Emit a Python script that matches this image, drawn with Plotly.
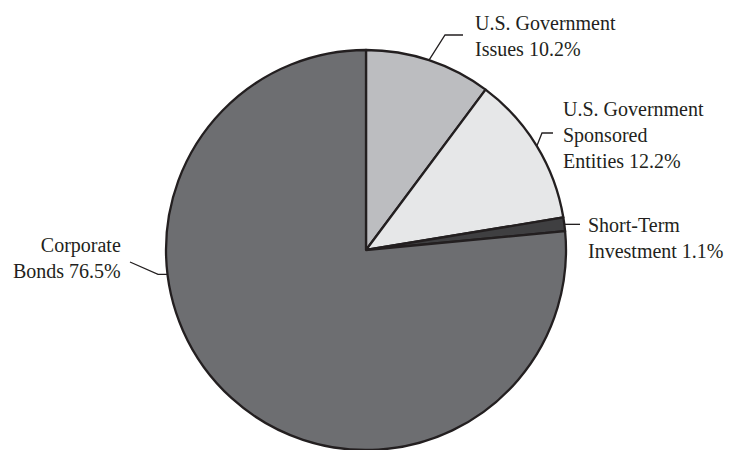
import math
import plotly.graph_objects as go

# ---- data ----
categories = ["U.S. Government Issues", "U.S. Government Sponsored Entities",
              "Short-Term Investment", "Corporate Bonds"]
values = [10.2, 12.2, 1.1, 76.5]
label_texts = ["U.S. Government<br>Issues 10.2%",
               "U.S. Government<br>Sponsored<br>Entities 12.2%",
               "Short-Term<br>Investment 1.1%",
               "Corporate<br>Bonds 76.5%"]
colors = ["#bcbdc0", "#e6e7e8", "#3f3f41", "#6d6e71"]

# ---- layout geometry (pixels) ----
W, H = 734, 450
CX, CY, R = 366, 250, 200
INK = "#231f20"


def P(x, y):
    return x / W, 1 - y / H


def edge(angle_deg):
    a = math.radians(angle_deg)
    return CX + R * math.sin(a), CY - R * math.cos(a)


# mid angles of slices (clockwise from 12 o'clock)
total = sum(values)
mids = []
acc = 0
for v in values:
    mids.append((acc + v / 2) / total * 360)
    acc += v

fig = go.Figure(go.Pie(
    labels=categories, values=values, sort=False, direction="clockwise",
    rotation=0, textinfo="none", hoverinfo="skip", showlegend=False,
    marker=dict(colors=colors, line=dict(color=INK, width=2.3)),
    domain=dict(x=[(CX - R) / W, (CX + R) / W],
                y=[(H - (CY + R)) / H, (H - (CY - R)) / H]),
))

# leader lines: start at slice edge, then elbow points
s0 = edge(mids[0])
s1 = edge(mids[1])
s2 = edge(mids[2])
s3 = edge(263)
leaders = [
    [s0, (445, 35), (463, 35)],
    [s1, (542, 133), (553, 133)],
    [s2, (580, s2[1])],
    [s3, (158, s3[1]), (130, 262)],
]
shapes = []
for pts in leaders:
    path = "M " + " L ".join("%.4f,%.4f" % P(x, y) for x, y in pts)
    shapes.append(dict(type="path", path=path, xref="paper", yref="paper",
                       line=dict(color=INK, width=1.3)))

# label positions
label_pos = [(473, 35.5, "left"), (561, 135, "left"), (586, 237.5, "left"),
             (123, 258, "right")]
annotations = []
for txt, (x, y, side) in zip(label_texts, label_pos):
    px, py = P(x, y)
    annotations.append(dict(
        text=txt, x=px, y=py, xref="paper", yref="paper", showarrow=False,
        xanchor=side, yanchor="middle", align=side,
        font=dict(family="Liberation Serif", size=20, color=INK)))

fig.update_layout(
    width=W, height=H, margin=dict(l=0, r=0, t=0, b=0),
    paper_bgcolor="white", plot_bgcolor="white",
    shapes=shapes, annotations=annotations,
)

fig.write_html("out.html", config={"displayModeBar": False},
               post_script="document.body.style.margin='0';")
